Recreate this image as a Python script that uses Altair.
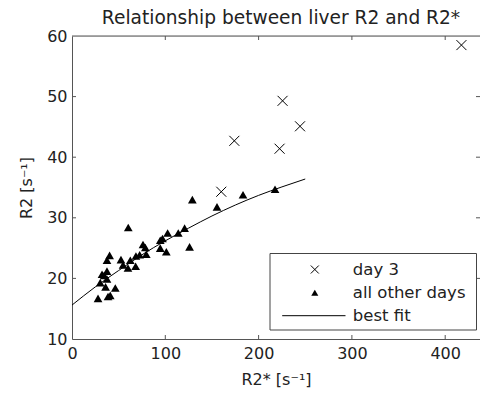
import altair as alt
import pandas as pd

# ---- data ----
day3_x = [160.0, 174.0, 222.5, 225.7, 244.4, 417.4]
day3_y = [34.3, 42.7, 41.4, 49.3, 45.1, 58.5]

other_x = [129.0, 155.4, 183.3, 217.6, 60.3, 102.5, 113.9, 120.7, 94.6, 97.0,
           94.6, 101.1, 126.0, 76.1, 78.6, 79.6, 72.5, 68.5, 40.3, 37.5,
           52.5, 62.5, 54.7, 60.0, 68.2, 32.2, 37.5, 34.5, 30.3, 37.5,
           36.0, 46.4, 27.9, 38.6, 41.0]
other_y = [33.0, 31.8, 33.8, 34.7, 28.4, 27.5, 27.5, 28.3, 26.3, 26.6,
           25.0, 24.4, 25.2, 25.6, 25.1, 24.0, 23.9, 23.7, 23.8, 23.0,
           23.1, 23.0, 22.2, 21.7, 22.0, 20.7, 21.2, 20.5, 19.3, 19.9,
           18.6, 18.4, 16.7, 17.0, 17.2]

fit_x = [0, 25, 50, 75, 100, 125, 150, 175, 200, 225, 250]
fit_y = [15.6, 18.6, 21.3, 23.9, 26.2, 28.3, 30.3, 32.1, 33.7, 35.1, 36.4]

x_ticks = [0, 100, 200, 300, 400]
y_ticks = [10, 20, 30, 40, 50, 60]
legend_labels = ["day 3", "all other days", "best fit"]
title_text = "Relationship between liver R2 and R2*"

# ---- layout ----
W, H = 408, 303
FONT = "DejaVu Sans"
AX = "#555555"
TXT = "#222222"

xs = alt.Scale(domain=[0, 437.3], nice=False, zero=False)
ys = alt.Scale(domain=[10, 60], nice=False, zero=False)

x_axis = alt.Axis(values=x_ticks, ticks=False, grid=False, domainColor=AX,
                  labelFont=FONT, labelFontSize=16, labelColor=TXT, labelPadding=6,
                  title="R2* [s⁻¹]", titleFont=FONT, titleFontSize=16,
                  titleFontWeight="normal", titleColor=TXT, titlePadding=10,
                  labelFlush=False)
y_axis = alt.Axis(values=y_ticks, ticks=False, grid=False, domainColor=AX,
                  labelFont=FONT, labelFontSize=16, labelColor=TXT, labelPadding=5,
                  title="R2 [s⁻¹]", titleFont=FONT, titleFontSize=16,
                  titleFontWeight="normal", titleColor=TXT, titlePadding=12,
                  labelFlush=False)

df_fit = pd.DataFrame({"x": fit_x, "y": fit_y})
df_other = pd.DataFrame({"x": other_x, "y": other_y})
df_day3 = pd.DataFrame({"x": day3_x, "y": day3_y})
df_xt = pd.DataFrame({"x": x_ticks[1:]})
df_yt = pd.DataFrame({"y": y_ticks[1:-1]})

fit = alt.Chart(df_fit).mark_line(color="black", strokeWidth=1, interpolate="monotone").encode(
    x=alt.X("x:Q", scale=xs, axis=x_axis),
    y=alt.Y("y:Q", scale=ys, axis=y_axis),
)
other = alt.Chart(df_other).mark_point(shape="triangle-up", filled=True,
                                       color="black", size=76, opacity=1).encode(
    x=alt.X("x:Q", scale=xs), y=alt.Y("y:Q", scale=ys))
X_PATH = "M-1,-1L1,1M-1,1L1,-1"
day3 = alt.Chart(df_day3).mark_point(shape=X_PATH, filled=False, color="black",
                                     size=100, strokeWidth=1, opacity=1).encode(
    x=alt.X("x:Q", scale=xs), y=alt.Y("y:Q", scale=ys))

# inward ticks on all four sides
tb = alt.Chart(df_xt).mark_rule(color=AX, strokeWidth=1).encode(
    x=alt.X("x:Q", scale=xs), y=alt.value(H), y2=alt.value(H - 4))
tt = alt.Chart(df_xt).mark_rule(color=AX, strokeWidth=1).encode(
    x=alt.X("x:Q", scale=xs), y=alt.value(0), y2=alt.value(4))
tl = alt.Chart(df_yt).mark_rule(color=AX, strokeWidth=1).encode(
    y=alt.Y("y:Q", scale=ys), x=alt.value(0), x2=alt.value(4))
tr = alt.Chart(df_yt).mark_rule(color=AX, strokeWidth=1).encode(
    y=alt.Y("y:Q", scale=ys), x=alt.value(W), x2=alt.value(W - 4))
top = alt.Chart(pd.DataFrame({"v": [60]})).mark_rule(color=AX, strokeWidth=1).encode(
    y=alt.Y("v:Q", scale=ys), x=alt.value(0), x2=alt.value(W))

# title (drawn as text above the plot)
title = alt.Chart(pd.DataFrame({"t": [title_text]})).mark_text(
    align="center", baseline="alphabetic", font=FONT, fontSize=18.6, color=TXT).encode(
    x=alt.value(209), y=alt.value(-11.7), text="t:N")

# legend (drawn)
LX0, LX1, LY0, LY1 = 198, 404.5, 217.5, 294
rows = [233.5, 256.7, 279.7]
df_leg = pd.DataFrame({"label": legend_labels, "row": rows})
box = alt.Chart(pd.DataFrame({"a": [0]})).mark_rect(fill="white", stroke="#444444",
                                                    strokeWidth=1).encode(
    x=alt.value(LX0), x2=alt.value(LX1), y=alt.value(LY0), y2=alt.value(LY1))
leg_x = alt.Chart(pd.DataFrame({"a": [0]})).mark_point(
    shape=X_PATH, filled=False, color="black", size=64, strokeWidth=1, opacity=1).encode(
    x=alt.value(242.8), y=alt.value(rows[0]))
leg_t = alt.Chart(pd.DataFrame({"a": [0]})).mark_point(
    shape="triangle-up", filled=True, color="black", size=50, opacity=1).encode(
    x=alt.value(242.8), y=alt.value(rows[1]))
leg_l = alt.Chart(pd.DataFrame({"a": [0]})).mark_rule(color="black", strokeWidth=1).encode(
    x=alt.value(210.2), x2=alt.value(273.5), y=alt.value(rows[2]))
leg_txt = alt.Chart(df_leg).mark_text(align="left", baseline="middle", font=FONT,
                                      fontSize=16.5, color=TXT).encode(
    x=alt.value(280.8), y=alt.Y("row:Q", scale=None), text="label:N")

chart = alt.layer(fit, other, day3, tb, tt, tl, tr, top, title,
                  box, leg_x, leg_t, leg_l, leg_txt).properties(
    width=W, height=H,
    padding={"left": 64, "top": 28, "right": 0, "bottom": 51},
    autosize=alt.AutoSizeParams(type="none"),
).configure_view(stroke=None).configure(background="white")

chart.save("out.html", embed_options={"renderer": "svg", "actions": False})
